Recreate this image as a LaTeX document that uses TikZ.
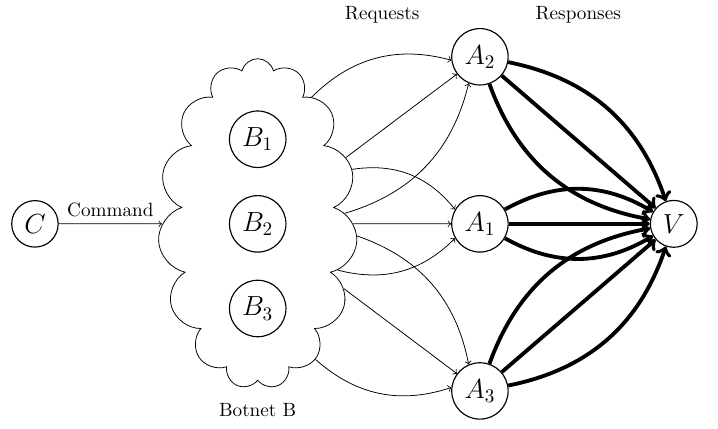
\documentclass[tikz,border=0pt]{standalone}
\usetikzlibrary{shapes.symbols}
\begin{document}
\begin{tikzpicture}
    \tikzset{
        agent/.style={draw, circle, semithick, font=\Large},
        request/.style={->},
        response/.style={->, line width=2pt},
    }
    \useasboundingbox (-0.64,-3.75) rectangle (12.51,4.10);

    % Commander
        \node[agent] (C) at (0,0) {$C$};

    % Botnet
        % variables
        \def\botX{4.08}
        \def\botGap{1.55}

        % cloud and bots
        \node[cloud, draw, cloud puffs=15, cloud ignores aspect, minimum width=3.65cm, minimum height=6.05cm] (botnet) at (\botX,0) {};
        \node[agent] (B1) at (\botX, \botGap) {$B_1$};
        \node[agent] (B2) at (\botX, 0) {$B_2$};
        \node[agent] (B3) at (\botX, -\botGap) {$B_3$};
        \node (botlabel) at (\botX, -3.41) {Botnet B};

    % Amplifiers
        % variables
        \def\ampX{8.15}
        \def\ampGap{3.06}

        \node[agent] (A2) at (\ampX, \ampGap) {$A_2$};
        \node[agent] (A1) at (\ampX, 0) {$A_1$};
        \node[agent] (A3) at (\ampX, -\ampGap) {$A_3$};

    % Victim
        \node[agent] (V) at (11.7, 0) {$V$};

    % Labels
        \node (req) at (6.36, 3.83) {Requests};
        \node (resp) at (9.95, 3.83) {Responses};

    % Command arrow
    \draw[request] (C) -- (botnet) node[midway, above] {Command};

    % Requests and responses
    \foreach \amp in {A1, A2, A3} {
        \draw[request] (botnet) to[bend left=30] (\amp);
        \draw[request] (botnet) -- (\amp);
        \draw[request] (botnet) to[bend right=30] (\amp);
        \draw[response] (\amp) to[bend left=30] (V);
        \draw[response] (\amp) -- (V);
        \draw[response] (\amp) to[bend right=30] (V);
    }
\end{tikzpicture}
\end{document}
